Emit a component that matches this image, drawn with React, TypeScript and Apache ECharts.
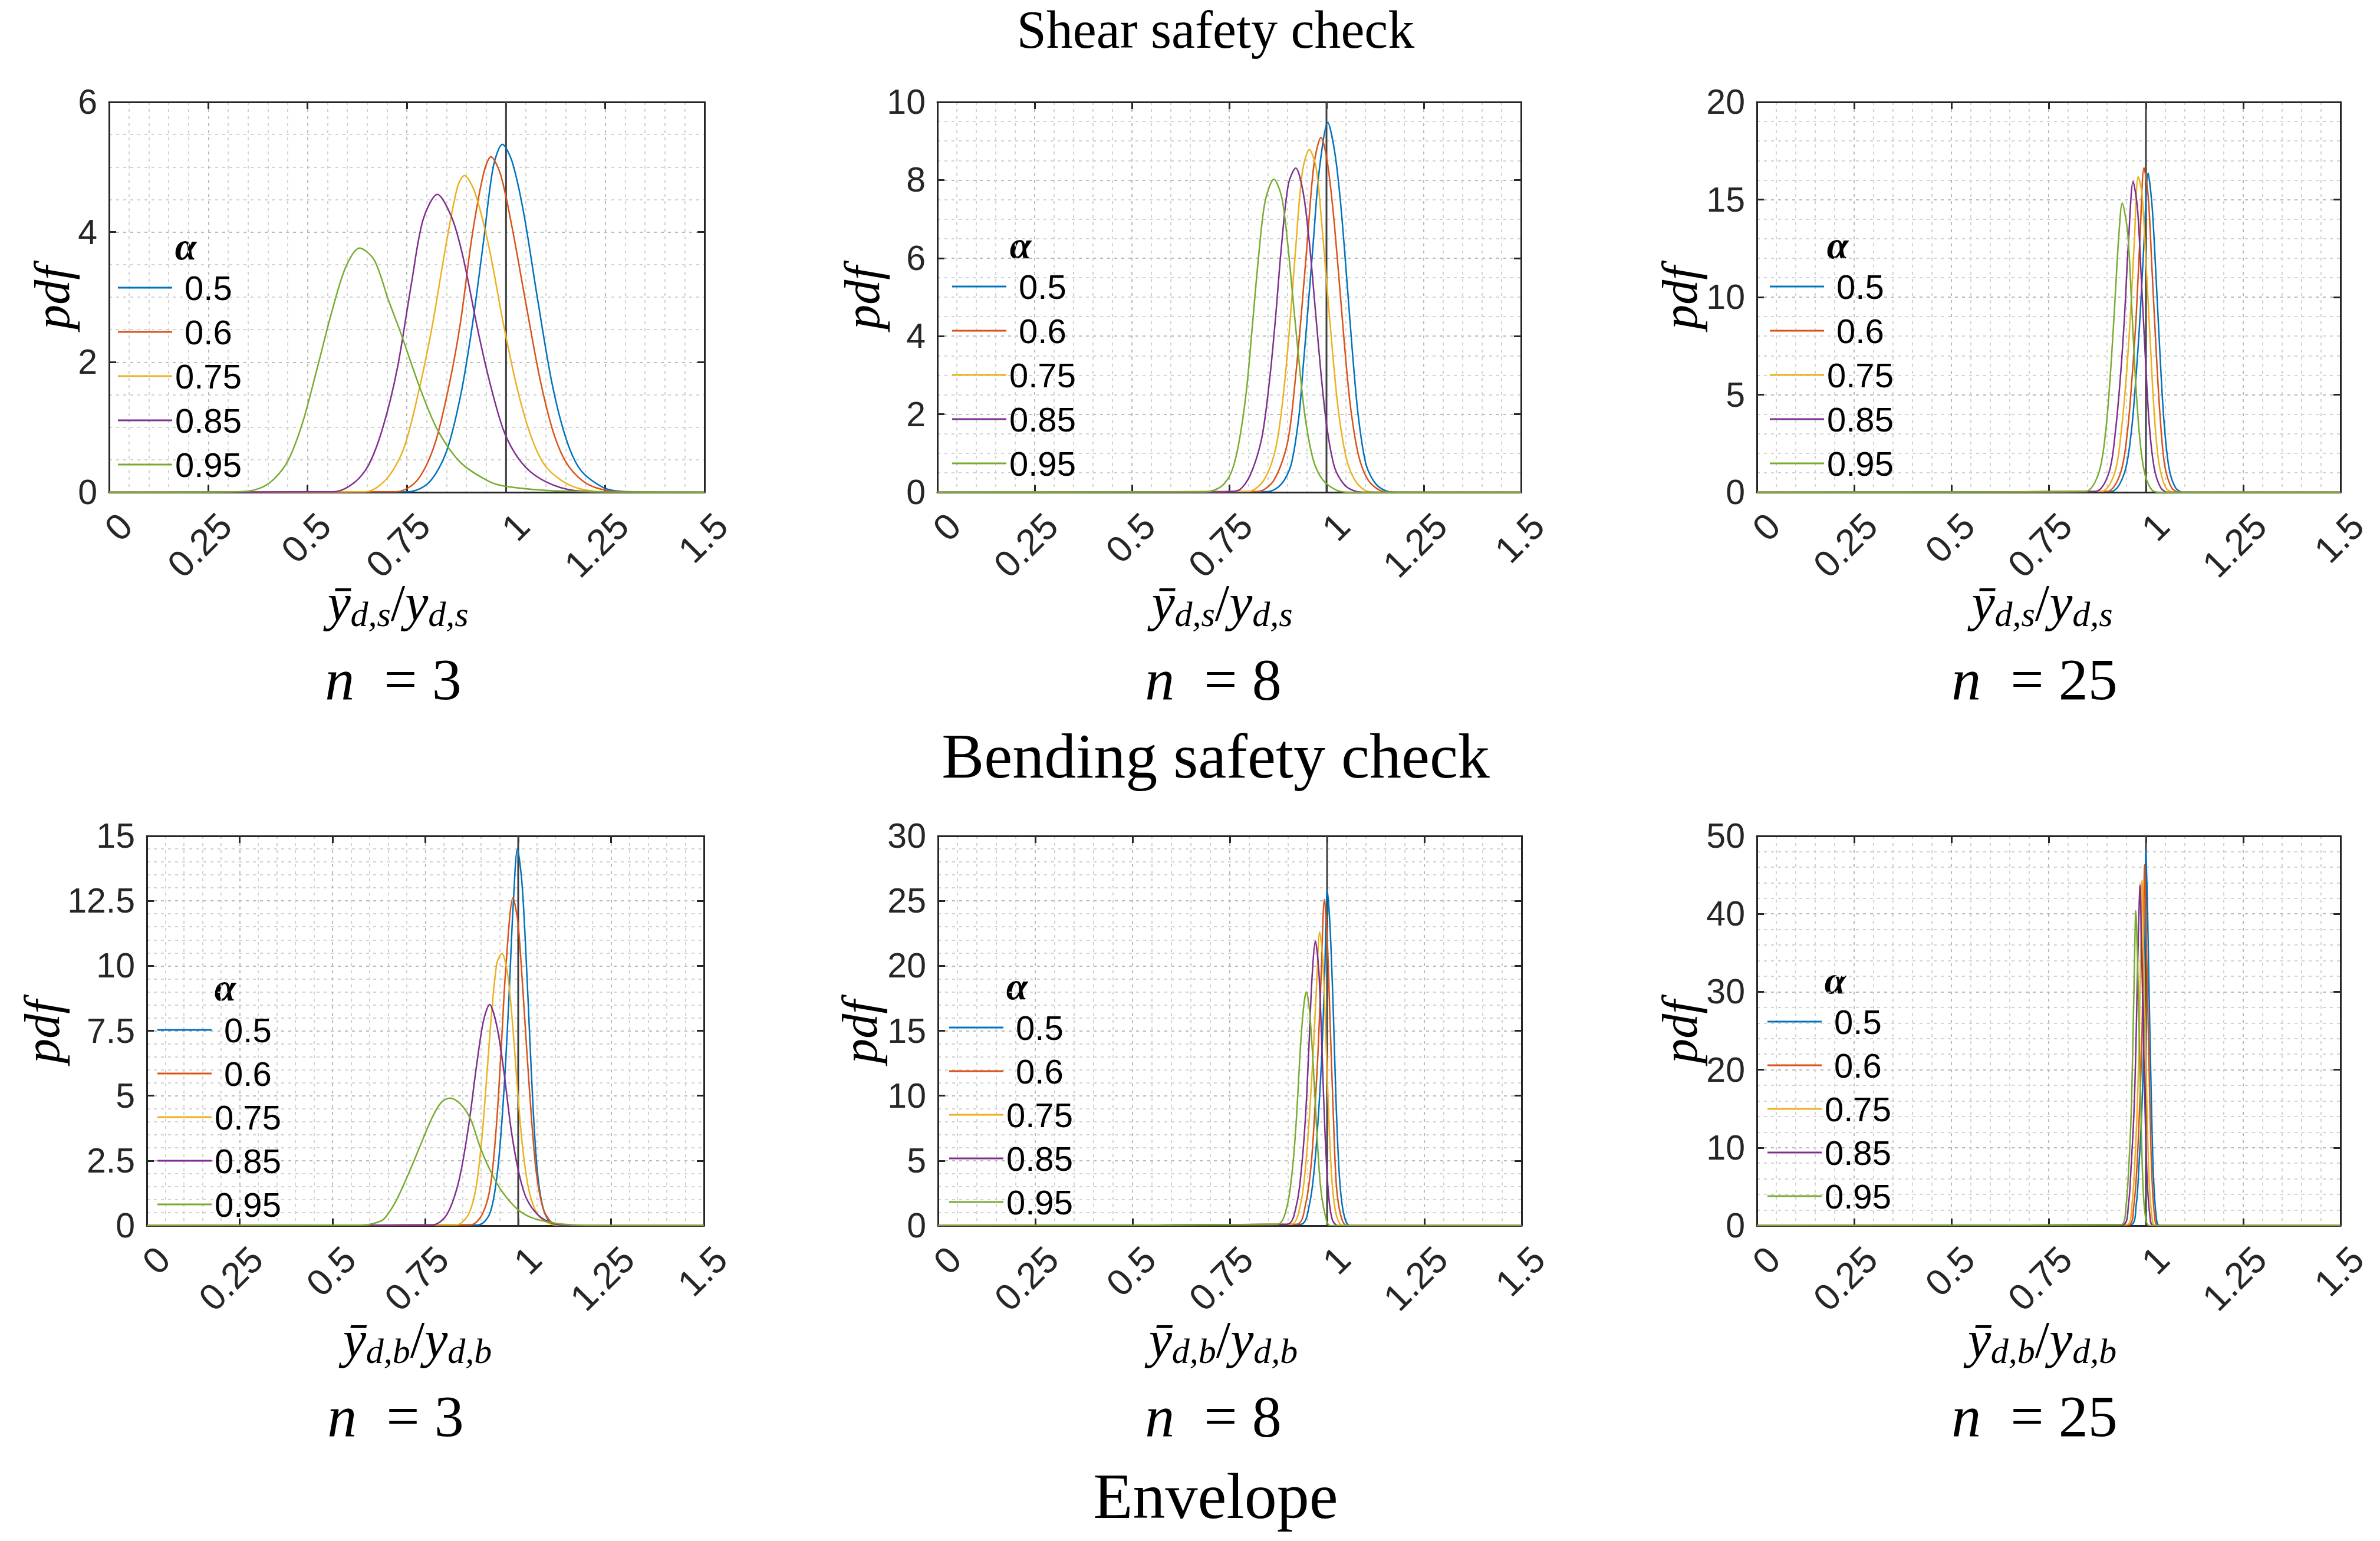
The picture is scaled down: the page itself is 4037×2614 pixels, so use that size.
import React, { useEffect, useRef } from "react";
import * as echarts from "echarts";

// legend entries (alpha) and MATLAB default line colours
const alphaNames = ["0.5", "0.6", "0.75", "0.85", "0.95"];
const colors = ["#0072BD", "#D95319", "#EDB120", "#7E2F8E", "#77AC30"];

// x axis: ratio of estimated to true design value
const xMin = 0;
const xMax = 1.5;
const xStep = 0.25;
const refX = 1;

// y axes per panel (shear n=3, 8, 25, bending n=3, 8, 25)
const yMaxes = [6, 10, 20, 15, 30, 50];
const yIntervals = [2, 2, 5, 2.5, 5, 10];
const yMinorSplits = [4, 4, 5, 5, 5, 5];
const nValues = ["3", "8", "25", "3", "8", "25"];
const subLetters = ["s", "s", "s", "b", "b", "b"];
const titles = ["Shear safety check", "Bending safety check", "Envelope"];

// ---- shear safety check, n = 3 ----
const shear3_050 = [[0, 0], [0.755, 0.01], [0.806, 0.15], [0.849, 0.61], [0.885, 1.47], [0.914, 2.52], [0.943, 3.84], [0.968, 5.01], [0.991, 5.35], [1.015, 5.09], [1.044, 4.31], [1.08, 2.95], [1.116, 1.67], [1.152, 0.81], [1.188, 0.34], [1.246, 0.07], [1.304, 0.01], [1.5, 0]];
const shear3_060 = [[0, 0], [0.726, 0.01], [0.777, 0.19], [0.82, 0.73], [0.856, 1.63], [0.885, 2.6], [0.914, 3.92], [0.943, 4.89], [0.962, 5.16], [0.986, 4.89], [1.015, 4.08], [1.051, 2.87], [1.087, 1.7], [1.123, 0.85], [1.16, 0.38], [1.21, 0.11], [1.282, 0.01], [1.5, 0]];
const shear3_075 = [[0, 0], [0.647, 0.01], [0.697, 0.19], [0.741, 0.65], [0.777, 1.47], [0.813, 2.52], [0.849, 3.81], [0.878, 4.7], [0.895, 4.87], [0.921, 4.62], [0.957, 3.77], [0.993, 2.6], [1.03, 1.55], [1.066, 0.81], [1.102, 0.38], [1.16, 0.11], [1.232, 0.01], [1.5, 0]];
const shear3_085 = [[0, 0], [0.567, 0.01], [0.618, 0.15], [0.654, 0.42], [0.69, 1.0], [0.726, 1.9], [0.762, 3.22], [0.791, 4.19], [0.827, 4.58], [0.863, 4.23], [0.892, 3.61], [0.928, 2.52], [0.957, 1.74], [0.993, 0.965], [1.029, 0.54], [1.073, 0.26], [1.138, 0.07], [1.21, 0.01], [1.5, 0]];
const shear3_095 = [[0, 0], [0.33, 0.01], [0.379, 0.06], [0.415, 0.2], [0.452, 0.5], [0.488, 1.08], [0.524, 1.9], [0.56, 2.75], [0.596, 3.46], [0.631, 3.755], [0.668, 3.57], [0.704, 2.95], [0.733, 2.48], [0.784, 1.59], [0.827, 0.965], [0.885, 0.46], [0.957, 0.167], [1.0, 0.09], [1.1, 0.03], [1.25, 0.005], [1.5, 0]];

// ---- shear safety check, n = 8 ----
const shear8_050 = [[0, 0], [0.85, 0.02], [0.884, 0.21], [0.909, 0.7], [0.929, 1.93], [0.94, 3.2], [0.951, 4.52], [0.966, 6.4], [0.981, 8.21], [1.0035, 9.47], [1.021, 8.73], [1.036, 7.44], [1.052, 5.49], [1.067, 3.55], [1.082, 1.93], [1.102, 0.7], [1.127, 0.21], [1.158, 0.02], [1.19, 0], [1.5, 0]];
const shear8_060 = [[0, 0], [0.824, 0.02], [0.865, 0.31], [0.9, 1.28], [0.92, 2.9], [0.935, 4.52], [0.951, 6.46], [0.968, 8.41], [0.986, 9.09], [1.001, 8.54], [1.016, 7.31], [1.031, 5.62], [1.046, 3.81], [1.061, 2.25], [1.082, 0.96], [1.107, 0.31], [1.137, 0.05], [1.17, 0], [1.5, 0]];
const shear8_075 = [[0, 0], [0.799, 0.02], [0.839, 0.31], [0.87, 1.15], [0.89, 2.58], [0.905, 4.2], [0.92, 6.14], [0.938, 8.21], [0.956, 8.78], [0.973, 8.34], [0.986, 7.11], [1.001, 5.3], [1.016, 3.55], [1.031, 2.06], [1.052, 0.83], [1.077, 0.25], [1.107, 0.02], [1.14, 0], [1.5, 0]];
const shear8_085 = [[0, 0], [0.74, 0.01], [0.774, 0.05], [0.804, 0.44], [0.834, 1.41], [0.854, 2.9], [0.869, 4.46], [0.884, 6.27], [0.902, 7.89], [0.921, 8.31], [0.94, 7.69], [0.956, 6.4], [0.971, 4.72], [0.986, 3.03], [1.001, 1.67], [1.021, 0.63], [1.047, 0.18], [1.077, 0.02], [1.11, 0], [1.5, 0]];
const shear8_095 = [[0, 0], [0.69, 0.01], [0.73, 0.15], [0.755, 0.5], [0.774, 1.22], [0.794, 2.58], [0.809, 4.2], [0.824, 5.88], [0.842, 7.44], [0.865, 8.02], [0.885, 7.56], [0.9, 6.4], [0.915, 4.84], [0.93, 3.29], [0.945, 1.93], [0.966, 0.83], [0.991, 0.31], [1.026, 0.05], [1.06, 0], [1.5, 0]];

// ---- shear safety check, n = 25 ----
const shear25_050 = [[0, 0], [0.91, 0.04], [0.945, 1.01], [0.963, 3.21], [0.975, 6.07], [0.985, 9.05], [0.995, 12.8], [1.0056, 16.36], [1.016, 14.6], [1.026, 11.0], [1.036, 7.1], [1.046, 3.73], [1.059, 1.27], [1.076, 0.23], [1.096, 0], [1.5, 0]];
const shear25_060 = [[0, 0], [0.899, 0.04], [0.935, 1.01], [0.953, 3.21], [0.965, 6.07], [0.975, 9.05], [0.985, 13.2], [0.995, 16.63], [1.006, 15.1], [1.016, 11.25], [1.026, 7.36], [1.036, 3.99], [1.048, 1.4], [1.066, 0.23], [1.086, 0], [1.5, 0]];
const shear25_075 = [[0, 0], [0.884, 0.04], [0.92, 1.01], [0.937, 3.21], [0.95, 6.07], [0.96, 9.05], [0.97, 12.8], [0.98, 16.18], [0.99, 15.27], [1.0005, 11.64], [1.011, 7.75], [1.021, 4.12], [1.033, 1.53], [1.051, 0.23], [1.071, 0], [1.5, 0]];
const shear25_085 = [[0, 0], [0.869, 0.04], [0.905, 1.01], [0.922, 3.21], [0.935, 6.07], [0.945, 9.05], [0.955, 12.8], [0.967, 15.92], [0.978, 14.6], [0.988, 11.0], [0.998, 7.1], [1.008, 3.6], [1.021, 1.27], [1.038, 0.23], [1.056, 0], [1.5, 0]];
const shear25_095 = [[0, 0], [0.844, 0.04], [0.879, 1.01], [0.897, 3.21], [0.91, 6.45], [0.92, 9.7], [0.93, 13.07], [0.939, 14.82], [0.953, 13.3], [0.963, 9.7], [0.973, 5.81], [0.985, 2.57], [0.998, 0.88], [1.016, 0.1], [1.036, 0], [1.5, 0]];

// ---- bending safety check, n = 3 ----
const bend3_050 = [[0, 0], [0.893, 0.03], [0.925, 0.52], [0.946, 2.31], [0.962, 5.28], [0.975, 8.74], [0.986, 12.2], [0.998, 14.5], [1.01, 13.2], [1.02, 10.7], [1.031, 7.26], [1.041, 4.29], [1.052, 2.01], [1.068, 0.62], [1.089, 0.08], [1.12, 0], [1.5, 0]];
const bend3_060 = [[0, 0], [0.872, 0.03], [0.903, 0.43], [0.925, 1.51], [0.941, 3.79], [0.954, 6.76], [0.967, 10.0], [0.986, 12.62], [0.999, 11.7], [1.01, 9.63], [1.023, 6.76], [1.036, 4.09], [1.049, 2.01], [1.068, 0.62], [1.094, 0.08], [1.13, 0], [1.5, 0]];
const bend3_075 = [[0, 0], [0.834, 0.03], [0.866, 0.43], [0.887, 1.51], [0.903, 3.5], [0.917, 6.07], [0.93, 8.45], [0.943, 10.13], [0.956, 10.48], [0.972, 9.63], [0.986, 7.55], [0.999, 5.08], [1.012, 3.0], [1.028, 1.42], [1.052, 0.43], [1.084, 0.08], [1.12, 0], [1.5, 0]];
const bend3_085 = [[0, 0], [0.771, 0.03], [0.808, 0.43], [0.84, 1.71], [0.866, 3.79], [0.887, 6.07], [0.906, 7.85], [0.923, 8.51], [0.943, 7.65], [0.962, 5.87], [0.98, 3.79], [0.999, 2.21], [1.02, 1.12], [1.052, 0.43], [1.094, 0.08], [1.14, 0], [1.5, 0]];
const bend3_095 = [[0, 0], [0.58, 0.02], [0.61, 0.08], [0.638, 0.25], [0.67, 0.92], [0.702, 1.91], [0.734, 3.0], [0.766, 4.09], [0.792, 4.73], [0.816, 4.91], [0.845, 4.68], [0.872, 4.09], [0.898, 3.0], [0.925, 2.11], [0.956, 1.32], [0.999, 0.62], [1.041, 0.28], [1.105, 0.08], [1.148, 0.03], [1.2, 0], [1.5, 0]];

// ---- bending safety check, n = 8 ----
const bend8_050 = [[0, 0], [0.932, 0.1], [0.955, 1.68], [0.968, 4.65], [0.978, 8.6], [0.987, 13.5], [0.994, 19.5], [1.0005, 25.8], [1.008, 22.8], [1.016, 16.5], [1.023, 9.6], [1.032, 3.66], [1.043, 0.89], [1.059, 0], [1.5, 0]];
const bend8_060 = [[0, 0], [0.922, 0.1], [0.945, 1.68], [0.959, 4.65], [0.968, 8.6], [0.977, 13.5], [0.985, 19.5], [0.993, 25.1], [1.0005, 22.0], [1.008, 15.5], [1.016, 8.6], [1.024, 3.07], [1.036, 0.69], [1.051, 0], [1.5, 0]];
const bend8_075 = [[0, 0], [0.907, 0.1], [0.932, 1.68], [0.945, 4.65], [0.955, 8.6], [0.964, 13.15], [0.973, 18.5], [0.981, 22.6], [0.989, 20.5], [0.997, 14.5], [1.004, 8.6], [1.013, 3.26], [1.024, 0.79], [1.041, 0], [1.5, 0]];
const bend8_085 = [[0, 0], [0.897, 0.1], [0.922, 1.68], [0.935, 4.65], [0.945, 8.6], [0.953, 13.5], [0.961, 18.9], [0.97, 21.9], [0.979, 19.5], [0.987, 13.5], [0.994, 7.61], [1.003, 2.67], [1.013, 0.49], [1.028, 0], [1.5, 0]];
const bend8_095 = [[0, 0], [0.872, 0.1], [0.897, 1.48], [0.912, 4.65], [0.922, 8.6], [0.931, 13.5], [0.94, 16.9], [0.947, 18.0], [0.955, 16.5], [0.964, 12.56], [0.973, 7.61], [0.983, 3.07], [0.996, 0.69], [1.008, 0], [1.5, 0]];

// ---- bending safety check, n = 25 ----
const bend25_050 = [[0, 0], [0.96, 0.1], [0.975, 2.7], [0.982, 7.7], [0.989, 14.3], [0.994, 22.5], [0.997, 34.1], [1.0, 48.1], [1.004, 40.7], [1.009, 27.5], [1.014, 15.9], [1.019, 6.7], [1.026, 1.4], [1.035, 0], [1.5, 0]];
const bend25_060 = [[0, 0], [0.955, 0.1], [0.969, 2.7], [0.977, 7.7], [0.983, 14.3], [0.989, 22.5], [0.993, 34.1], [0.9965, 46.3], [1.0, 39.0], [1.005, 27.5], [1.01, 15.9], [1.015, 6.7], [1.022, 1.4], [1.031, 0], [1.5, 0]];
const bend25_075 = [[0, 0], [0.95, 0.1], [0.964, 2.7], [0.971, 7.7], [0.977, 14.3], [0.982, 22.5], [0.986, 34.1], [0.99, 44.3], [0.993, 37.4], [0.998, 25.8], [1.003, 14.3], [1.008, 6.0], [1.015, 1.4], [1.024, 0], [1.5, 0]];
const bend25_085 = [[0, 0], [0.94, 0.1], [0.955, 2.7], [0.962, 7.7], [0.969, 14.3], [0.974, 22.5], [0.979, 34.1], [0.985, 43.7], [0.988, 37.4], [0.993, 25.8], [0.998, 14.3], [1.003, 6.0], [1.01, 1.4], [1.019, 0], [1.5, 0]];
const bend25_095 = [[0, 0], [0.935, 0.1], [0.949, 2.7], [0.956, 7.7], [0.962, 14.3], [0.966, 22.5], [0.97, 32.4], [0.974, 40.4], [0.978, 34.8], [0.983, 24.2], [0.988, 12.6], [0.993, 4.4], [1.0, 0.76], [1.009, 0], [1.5, 0]];

const panelCurves = [
  [shear3_050, shear3_060, shear3_075, shear3_085, shear3_095],
  [shear8_050, shear8_060, shear8_075, shear8_085, shear8_095],
  [shear25_050, shear25_060, shear25_075, shear25_085, shear25_095],
  [bend3_050, bend3_060, bend3_075, bend3_085, bend3_095],
  [bend8_050, bend8_060, bend8_075, bend8_085, bend8_095],
  [bend25_050, bend25_060, bend25_075, bend25_085, bend25_095],
];

// layout in page pixels
const layouts = [
  { grid: { left: 185, top: 173, width: 1010, height: 662 }, legend: [200, 456], gap: 11, alpha: [315, 417], pdf: [88, 505], xl: [675, 1022], nl: [667, 1152] },
  { grid: { left: 1590, top: 173, width: 990, height: 662 }, legend: [1615, 454], gap: 11, alpha: [1731, 415], pdf: [1462, 505], xl: [2073, 1022], nl: [2058, 1152] },
  { grid: { left: 2980, top: 173, width: 990, height: 662 }, legend: [3002, 454], gap: 11, alpha: [3117, 415], pdf: [2849, 505], xl: [3464, 1022], nl: [3451, 1152] },
  { grid: { left: 249, top: 1418, width: 945, height: 661 }, legend: [267, 1715], gap: 10, alpha: [382, 1674], pdf: [71, 1750], xl: [708, 2272], nl: [671, 2402] },
  { grid: { left: 1591, top: 1418, width: 990, height: 661 }, legend: [1610, 1711], gap: 10, alpha: [1725, 1672], pdf: [1458, 1750], xl: [2075, 2272], nl: [2058, 2402] },
  { grid: { left: 2980, top: 1418, width: 990, height: 661 }, legend: [2998, 1701], gap: 10, alpha: [3113, 1662], pdf: [2849, 1750], xl: [3464, 2272], nl: [3451, 2402] },
];

const SANS = '"Liberation Sans", Arial, sans-serif';
const SERIF = '"Liberation Serif", "Times New Roman", serif';
const AXIS_COLOR = "#262626";
const gridDots = { color: "#bababa", width: 2, type: [5, 7] as number[] };
const minorDots = { color: "#d2d2d2", width: 2, type: [5, 7] as number[] };

function textEl(x: number, y: number, style: any, extra: any = {}) {
  return {
    type: "text",
    x,
    y,
    silent: true,
    style: { fill: "#000", align: "center", verticalAlign: "middle", textAlign: "center", textVerticalAlign: "middle", ...style },
    ...extra,
  };
}

function buildOption(): echarts.EChartsOption {
  const grid: any[] = [];
  const xAxis: any[] = [];
  const yAxis: any[] = [];
  const series: any[] = [];
  const legend: any[] = [];
  const graphic: any[] = [];

  layouts.forEach((lay, p) => {
    grid.push({ ...lay.grid, show: false, containLabel: false, outerBoundsMode: "none" });

    const line = { show: true, onZero: false, lineStyle: { color: AXIS_COLOR, width: 3 } };
    const tick = { show: true, inside: true, length: 12, lineStyle: { color: AXIS_COLOR, width: 3 } };

    xAxis.push({
      gridIndex: p,
      type: "value",
      min: xMin,
      max: xMax,
      interval: xStep,
      position: "bottom",
      axisLine: line,
      axisTick: tick,
      axisLabel: {
        rotate: 45,
        margin: 18,
        verticalAlign: "top",
        lineHeight: 80,
        fontSize: 63,
        fontFamily: SANS,
        color: AXIS_COLOR,
      },
      splitLine: { show: true, lineStyle: gridDots },
      minorTick: { show: false, splitNumber: 5 },
      minorSplitLine: { show: true, lineStyle: minorDots },
    });
    xAxis.push({
      gridIndex: p,
      type: "value",
      min: xMin,
      max: xMax,
      interval: xStep,
      position: "top",
      axisLine: line,
      axisTick: tick,
      axisLabel: { show: false },
      splitLine: { show: false },
    });

    yAxis.push({
      gridIndex: p,
      type: "value",
      min: 0,
      max: yMaxes[p],
      interval: yIntervals[p],
      position: "left",
      axisLine: line,
      axisTick: tick,
      axisLabel: { margin: 20, fontSize: 59, fontFamily: SANS, color: AXIS_COLOR },
      splitLine: { show: true, lineStyle: gridDots },
      minorTick: { show: false, splitNumber: yMinorSplits[p] },
      minorSplitLine: { show: true, lineStyle: minorDots },
    });
    yAxis.push({
      gridIndex: p,
      type: "value",
      min: 0,
      max: yMaxes[p],
      interval: yIntervals[p],
      position: "right",
      axisLine: line,
      axisTick: tick,
      axisLabel: { show: false },
      splitLine: { show: false },
    });

    // vertical reference line at ratio = 1
    series.push({
      type: "line",
      xAxisIndex: 2 * p,
      yAxisIndex: 2 * p,
      data: [[refX, 0], [refX, yMaxes[p]]],
      symbol: "none",
      silent: true,
      lineStyle: { color: "#3f3f3f", width: 3 },
      z: 2,
    });

    panelCurves[p].forEach((curve, k) => {
      series.push({
        type: "line",
        name: alphaNames[k],
        xAxisIndex: 2 * p,
        yAxisIndex: 2 * p,
        data: curve,
        symbol: "none",
        smooth: 0.3,
        lineStyle: { color: colors[k], width: 2.5 },
        itemStyle: { color: colors[k] },
        z: 3,
      });
    });

    legend.push({
      orient: "vertical",
      left: lay.legend[0],
      top: lay.legend[1],
      padding: 0,
      icon: "rect",
      itemWidth: 92,
      itemHeight: 3,
      itemGap: lay.gap,
      selectedMode: false,
      data: alphaNames,
      formatter: (name: string) => (name.length === 3 ? "\u00a0" + name : name),
      textStyle: { fontFamily: SANS, fontSize: 58, color: "#000", lineHeight: 64 },
    });

    // legend title
    graphic.push(textEl(lay.alpha[0], lay.alpha[1], { text: "α", font: `italic bold 66px ${SERIF}` }));

    // y label
    graphic.push(textEl(lay.pdf[0], lay.pdf[1], { text: "pdf", font: `italic 84px ${SERIF}` }, { rotation: Math.PI / 2 }));

    // x label  ȳ_{d,s} / y_{d,s}
    const sub = `d,${subLetters[p]}`;
    graphic.push(
      textEl(lay.xl[0], lay.xl[1], {
        text: `{m|ȳ}{s|${sub}}{u|/}{m|y}{s|${sub}}`,
        rich: {
          m: { fontFamily: SERIF, fontStyle: "italic", fontSize: 88, lineHeight: 100, fill: "#000" },
          u: { fontFamily: SERIF, fontSize: 88, lineHeight: 100, fill: "#000" },
          s: { fontFamily: SERIF, fontStyle: "italic", fontSize: 60, lineHeight: 50, verticalAlign: "bottom", fill: "#000" },
        },
      })
    );

    // n = ...
    graphic.push(
      textEl(lay.nl[0], lay.nl[1], {
        text: `{i|n}{u|\u00a0\u00a0= ${nValues[p]}}`,
        rich: {
          i: { fontFamily: SERIF, fontStyle: "italic", fontSize: 100, fill: "#000" },
          u: { fontFamily: SERIF, fontSize: 100, fill: "#000" },
        },
      })
    );
  });

  graphic.push(textEl(2062, 50, { text: titles[0], font: `90px ${SERIF}` }));
  graphic.push(textEl(2062, 1282, { text: titles[1], font: `108px ${SERIF}` }));
  graphic.push(textEl(2062, 2538, { text: titles[2], font: `110px ${SERIF}` }));

  return {
    animation: false,
    backgroundColor: "#ffffff",
    grid,
    xAxis,
    yAxis,
    legend,
    series,
    graphic,
  };
}

export default function App() {
  const chartRef = useRef<HTMLDivElement>(null);

  useEffect(() => {
    if (!chartRef.current) return;
    const chart = echarts.init(chartRef.current, undefined, { renderer: "svg" });
    chart.setOption(buildOption());
    return () => {
      chart.dispose();
    };
  }, []);

  return (
    <div
      ref={chartRef}
      style={{ position: "fixed", left: 0, top: 0, width: "4037px", height: "2614px", background: "#fff" }}
    />
  );
}
